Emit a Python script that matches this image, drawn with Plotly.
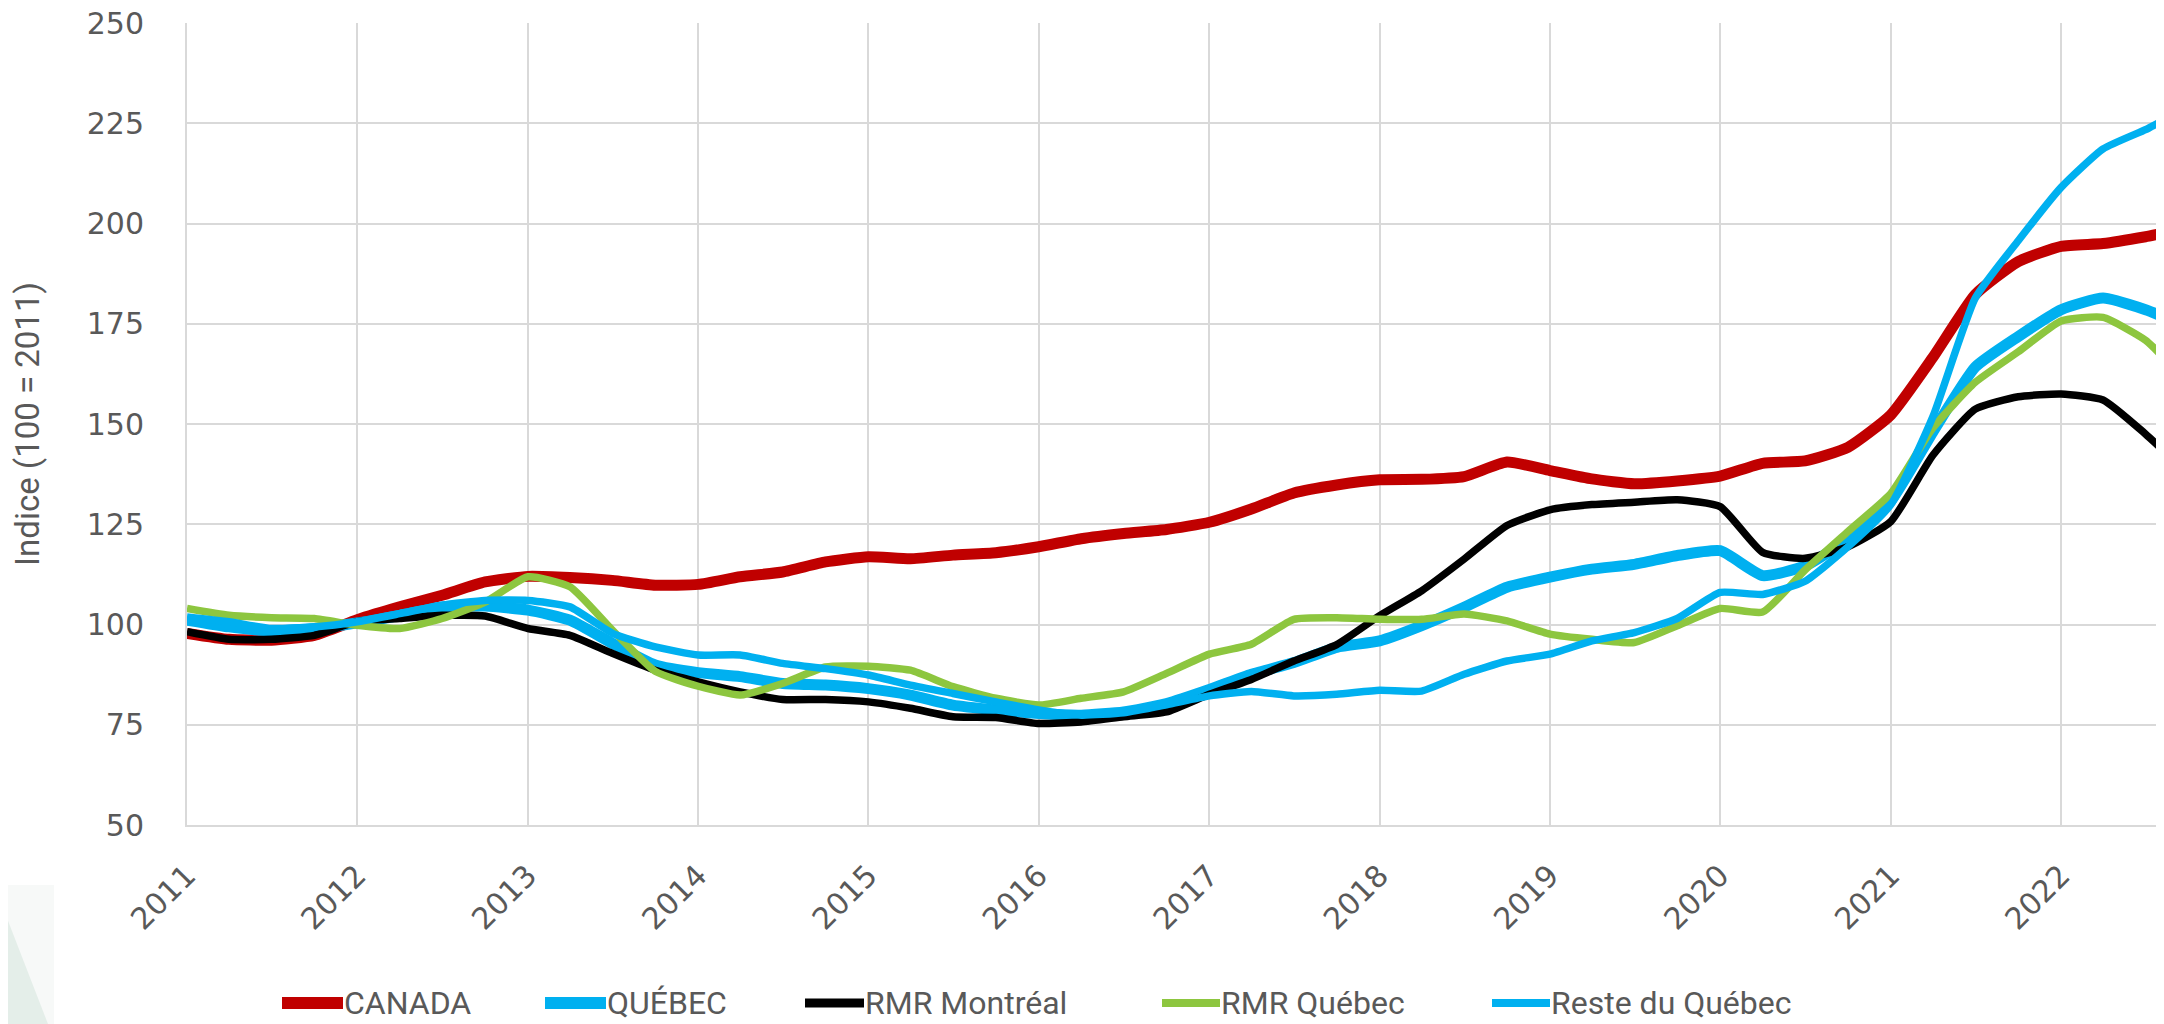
import pandas as pd
import plotly.graph_objects as go

# ---- data (quarterly readings, Jan 2011 -> Jul 2022, plus Aug 2022) ----
dates = list(pd.date_range("2011-01-01", "2022-07-01", freq="QS").strftime("%Y-%m-%d")) + ["2022-08-01"]

canada = [97.8, 96.3, 96.1, 97.3,
          101.2, 104.4, 107.3, 110.6,
          112.0, 111.7, 111.0, 109.8,
          110.0, 111.9, 113.1, 115.6,
          116.9, 116.4, 117.3, 117.9,
          119.4, 121.4, 122.7, 123.7,
          125.5, 128.8, 132.8, 134.8,
          136.1, 136.2, 136.9, 140.5,
          138.4, 136.3, 135.1, 135.8,
          137.0, 140.2, 140.8, 144.2,
          152.3, 166.6, 182.3, 190.5,
          194.3, 195.0, 196.7, 197.4]

quebec = [101.1, 99.4, 98.4, 99.0,
          100.4, 102.3, 104.4, 104.6,
          103.6, 101.1, 95.3, 89.9,
          88.0, 87.0, 85.3, 84.9,
          84.0, 82.4, 79.9, 78.7,
          77.8, 77.4, 78.2, 80.3,
          83.8, 87.6, 90.5, 94.3,
          95.9, 99.7, 104.3, 109.3,
          111.8, 113.8, 115.0, 117.2,
          118.4, 112.2, 114.6, 121.3,
          130.8, 148.0, 164.2, 171.8,
          178.5, 181.4, 178.5, 177.1]

rmr_montreal = [98.2, 96.3, 96.3, 97.3,
                100.7, 101.5, 102.3, 102.1,
                99.0, 97.3, 92.8, 88.6,
                85.7, 83.2, 81.3, 81.3,
                80.7, 79.1, 77.0, 76.8,
                75.3, 75.7, 77.0, 78.2,
                82.6, 86.3, 90.9, 95.0,
                102.2, 108.4, 116.3, 124.7,
                128.6, 129.9, 130.5, 131.1,
                129.4, 118.0, 116.5, 119.4,
                125.7, 142.2, 153.7, 156.8,
                157.5, 156.0, 147.5, 144.2]

rmr_quebec = [104.0, 102.3, 101.7, 101.5,
              99.8, 99.0, 101.5, 105.6,
              111.9, 109.4, 98.6, 88.3,
              84.6, 82.4, 85.3, 89.4,
              89.6, 88.6, 84.5, 81.6,
              79.9, 81.6, 83.2, 87.8,
              92.6, 95.1, 101.3, 101.7,
              101.3, 101.3, 102.6, 100.9,
              97.6, 96.3, 95.5, 99.7,
              104.0, 103.1, 113.6, 123.2,
              132.7, 149.0, 160.4, 168.0,
              175.7, 176.6, 170.9, 167.5]

reste_quebec = [101.9, 100.7, 99.0, 99.4,
                100.7, 102.7, 104.8, 106.0,
                106.0, 104.4, 97.8, 94.4,
                92.4, 92.4, 90.3, 89.0,
                87.4, 84.9, 82.8, 80.7,
                78.7, 77.4, 78.0, 80.0,
                82.2, 83.3, 82.2, 82.6,
                83.6, 83.4, 87.6, 90.9,
                92.6, 95.9, 98.0, 101.5,
                108.0, 107.5, 110.8, 119.4,
                129.9, 151.8, 181.4, 195.7,
                209.0, 218.6, 223.4, 225.3]

series_names = ["CANADA", "QUÉBEC", "RMR Montréal", "RMR Québec", "Reste du Québec"]
series_values = [canada, quebec, rmr_montreal, rmr_quebec, reste_quebec]
series_colors = ["#C00000", "#00B0F0", "#000000", "#8DC63F", "#00B0F0"]
series_widths = [11, 11, 7.5, 7.5, 7.5]
y_ticks = [50, 75, 100, 125, 150, 175, 200, 225, 250]

# ---- geometry (page has an 8px body margin, so the figure is offset by 8px) ----
OFF = 8
W, H = 2164 - OFF, 1024 - OFF
ML, MR, MT, MB = 187 - OFF, 4, 23 - OFF, 199
PW, PH = W - ML - MR, H - MT - MB


def px_x(p):
    """page pixel x -> paper coordinate"""
    return (p - OFF - ML) / PW


def px_y(p):
    """page pixel y -> paper coordinate"""
    return (H - MB - (p - OFF)) / PH


fig = go.Figure()
for name, vals, col, w in zip(series_names, series_values, series_colors, series_widths):
    fig.add_trace(go.Scatter(
        x=dates, y=vals, name=name, mode="lines",
        line=dict(color=col, width=w, shape="spline", smoothing=0.5),
        showlegend=False, cliponaxis=True,
    ))

tick_font = dict(family="DejaVu Sans", size=30, color="#595959")
text_font = dict(family="Roboto", size=32, color="#595959")

fig.update_layout(
    width=W, height=H,
    margin=dict(l=ML, r=MR, t=MT, b=MB, autoexpand=False),
    paper_bgcolor="white", plot_bgcolor="white",
    xaxis=dict(
        type="date", range=["2011-01-01", "2022-08-01"],
        tick0="2011-01-01", dtick="M12", tickformat="%Y",
        tickangle=-45, tickfont=tick_font,
        showgrid=True, gridcolor="#D9D9D9", gridwidth=2,
        showline=True, linecolor="#D9D9D9", linewidth=2,
        ticks="", ticklabelstandoff=19, zeroline=False,
        ticklabeloverflow="allow",
    ),
    yaxis=dict(
        range=[50, 250], tickvals=y_ticks, tickfont=tick_font,
        showgrid=True, gridcolor="#D9D9D9", gridwidth=2,
        showline=True, linecolor="#D9D9D9", linewidth=2,
        ticks="", ticklabelstandoff=35, zeroline=False,
        ticklabeloverflow="allow",
        title=dict(text="Indice (100 = 2011)", font=dict(family="Roboto", size=33, color="#595959"),
                   standoff=44),
    ),
)

# decorative watermark in the bottom-left corner
fig.add_shape(type="rect", xref="paper", yref="paper",
              x0=px_x(0), x1=px_x(54), y0=px_y(1024), y1=px_y(885),
              fillcolor="#F7F9F8", line=dict(width=0), layer="below")
fig.add_shape(type="path", xref="paper", yref="paper",
              path="M {x0},{y0} L {x1},{y1} L {x0},{y1} Z".format(
                  x0=px_x(0), y0=px_y(900), x1=px_x(48), y1=px_y(1024)),
              fillcolor="#E4EEE9", line=dict(width=0), layer="below")

# legend (drawn below the plot, matching the reference spacing)
legend_line_x = [(282, 343), (545, 606), (805, 864), (1162, 1220), (1492, 1550)]
legend_line_w = [12, 12, 9, 8, 8]
legend_y = px_y(1003)
for (a, b), name, col, lw in zip(legend_line_x, series_names, series_colors, legend_line_w):
    fig.add_shape(type="line", xref="paper", yref="paper",
                  x0=px_x(a), x1=px_x(b), y0=legend_y, y1=legend_y,
                  line=dict(color=col, width=lw))
    fig.add_annotation(xref="paper", yref="paper", x=px_x(b), y=legend_y,
                       xanchor="left", yanchor="middle", text=name, showarrow=False,
                       font=text_font, borderpad=0)

fig.write_html("out.html")
